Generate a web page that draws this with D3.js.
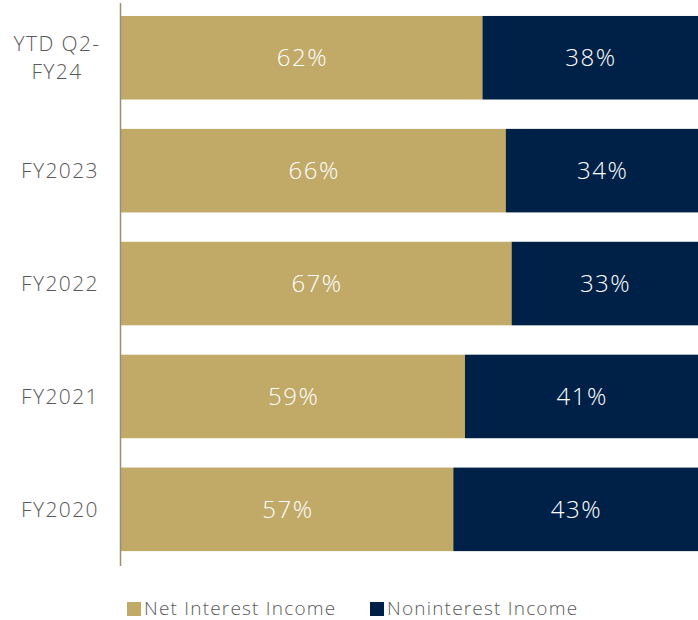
<!DOCTYPE html>
<html>
<head>
<meta charset="utf-8">
<script src="https://cdn.jsdelivr.net/npm/d3@7"></script>
<style>
  html, body { margin: 0; padding: 0; background: #fff; }
  svg { display: block; font-family: "Open Sans", "Noto Sans", sans-serif; }
</style>
</head>
<body>
<svg id="chart" width="698" height="620"></svg>
<script>
// Revenue mix by period (percent of total revenue)
const categories = [["YTD Q2-", "FY24"], ["FY2023"], ["FY2022"], ["FY2021"], ["FY2020"]];
const netInterest = [62, 66, 67, 59, 57];
const nonInterest = [38, 34, 33, 41, 43];
const seriesNames = ["Net Interest Income", "Noninterest Income"];
const seriesColors = ["#C1A968", "#002147"];

const svg = d3.select("#chart");
const keys = categories.map(c => c.join(" "));

const x = d3.scaleLinear().domain([0, 100]).range([121, 704]);
const y = d3.scaleBand().domain(keys).range([1.3, 565.8]).paddingInner(0.26).paddingOuter(0.13);

const rows = keys.map((k, i) => ({ key: k, lines: categories[i], a: netInterest[i], b: nonInterest[i] }));
const stack = d3.stack().keys(["a", "b"])(rows);

const layers = svg.append("g").selectAll("g").data(stack).join("g")
  .attr("fill", (d, i) => seriesColors[i]);

layers.selectAll("rect").data(d => d).join("rect")
  .attr("x", d => x(d[0]))
  .attr("width", d => x(d[1]) - x(d[0]))
  .attr("y", d => y(d.data.key))
  .attr("height", y.bandwidth());

// Value labels centred in each segment
const valSpacing = 1.5;
layers.selectAll("text").data((d, i) => d.map(v => ({ v, val: i === 0 ? v.data.a : v.data.b })))
  .join("text")
  .attr("x", d => (x(d.v[0]) + Math.min(x(d.v[1]), 698)) / 2 + valSpacing / 2)
  .attr("y", d => y(d.v.data.key) + y.bandwidth() / 2)
  .attr("dy", "0.36em")
  .attr("text-anchor", "middle")
  .attr("fill", "#ffffff")
  .attr("font-size", 24)
  .attr("font-weight", 300)
  .attr("letter-spacing", valSpacing)
  .text(d => d.val + "%");

// Category axis line
svg.append("line")
  .attr("x1", 120.5).attr("x2", 120.5)
  .attr("y1", 3).attr("y2", 566)
  .attr("stroke", "#9a9070").attr("stroke-width", 1.5);

// Category labels: single lines right-aligned, wrapped lines centred
const catLines = rows.flatMap(d => d.lines.map((line, j) => ({
  key: d.key, line, j, n: d.lines.length
})));
svg.append("g").selectAll("text").data(catLines).join("text")
  .attr("fill", "#595959")
  .attr("font-size", 21)
  .attr("font-weight", 300)
  .attr("letter-spacing", 1.4)
  .attr("text-anchor", d => d.n > 1 ? "middle" : "end")
  .attr("x", d => d.n > 1 ? 57 : 99)
  .attr("y", d => y(d.key) + y.bandwidth() / 2 + (d.j - (d.n - 1) / 2) * 28)
  .attr("dy", "0.36em")
  .text(d => d.line);

// Legend
const legend = svg.append("g").selectAll("g").data(seriesNames).join("g")
  .attr("transform", (d, i) => `translate(${i === 0 ? 127 : 370},608)`);
legend.append("rect").attr("x", 0).attr("y", -6).attr("width", 14).attr("height", 14)
  .attr("fill", (d, i) => seriesColors[i]);
legend.append("text").attr("x", 17).attr("y", 0).attr("dy", "0.36em")
  .attr("fill", "#595959").attr("font-size", 19).attr("font-weight", 300)
  .attr("letter-spacing", 1.2).text(d => d);
</script>
</body>
</html>
